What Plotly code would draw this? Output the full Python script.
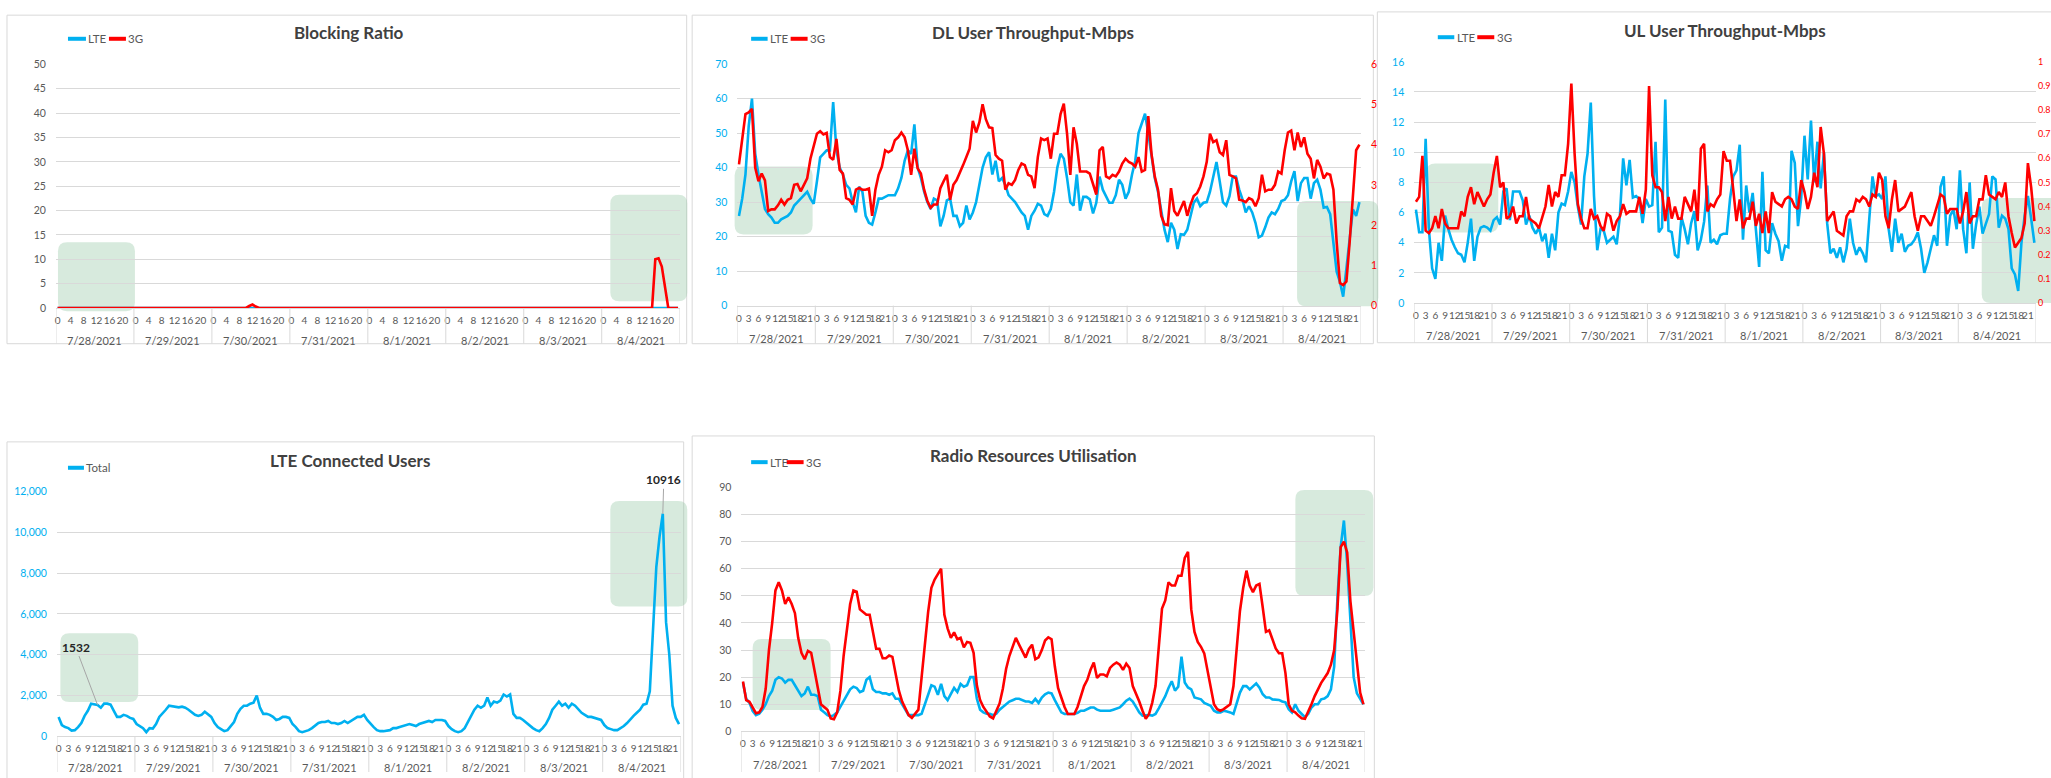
import plotly.graph_objects as go

# ---------------- DATA ----------------
dates = ["7/28/2021", "7/29/2021", "7/30/2021", "7/31/2021", "8/1/2021", "8/2/2021", "8/3/2021", "8/4/2021"]
hours = list(range(24))

blocking_lte = [
    0, 0, 0, 0, 0, 0, 0, 0, 0, 0, 0, 0, 0, 0, 0, 0, 0, 0, 0, 0, 0, 0, 0, 0,
    0, 0, 0, 0, 0, 0, 0, 0, 0, 0, 0, 0, 0, 0, 0, 0, 0, 0, 0, 0, 0, 0, 0, 0,
    0, 0, 0, 0, 0, 0, 0, 0, 0, 0, 0, 0, 0, 0, 0, 0, 0, 0, 0, 0, 0, 0, 0, 0,
    0, 0, 0, 0, 0, 0, 0, 0, 0, 0, 0, 0, 0, 0, 0, 0, 0, 0, 0, 0, 0, 0, 0, 0,
    0, 0, 0, 0, 0, 0, 0, 0, 0, 0, 0, 0, 0, 0, 0, 0, 0, 0, 0, 0, 0, 0, 0, 0,
    0, 0, 0, 0, 0, 0, 0, 0, 0, 0, 0, 0, 0, 0, 0, 0, 0, 0, 0, 0, 0, 0, 0, 0,
    0, 0, 0, 0, 0, 0, 0, 0, 0, 0, 0, 0, 0, 0, 0, 0, 0, 0, 0, 0, 0, 0, 0, 0,
    0, 0, 0, 0, 0, 0, 0, 0, 0, 0, 0, 0, 0, 0, 0, 0, 0, 0, 0, 0, 0, 0, 0, 0,
]
blocking_3g = [
    0, 0, 0, 0, 0, 0, 0, 0, 0, 0, 0, 0.1, 0, 0, 0, 0, 0, 0, 0, 0, 0, 0, 0, 0,
    0, 0, 0, 0, 0, 0, 0, 0, 0, 0, 0, 0, 0, 0, 0, 0, 0, 0, 0, 0, 0, 0, 0, 0,
    0, 0, 0, 0, 0, 0, 0, 0, 0, 0, 0, 0.4, 0.7, 0.3, 0, 0, 0, 0, 0, 0, 0, 0, 0, 0,
    0, 0, 0, 0, 0, 0, 0, 0, 0, 0, 0, 0, 0, 0, 0, 0, 0, 0, 0, 0, 0, 0, 0, 0,
    0, 0, 0, 0, 0, 0, 0, 0, 0, 0, 0, 0, 0, 0, 0, 0, 0, 0, 0, 0, 0, 0, 0, 0,
    0, 0, 0, 0, 0, 0, 0, 0, 0, 0, 0.1, 0, 0, 0, 0, 0, 0, 0, 0, 0, 0, 0, 0, 0,
    0, 0, 0, 0, 0, 0, 0, 0, 0, 0, 0, 0, 0, 0, 0, 0, 0, 0, 0, 0, 0, 0, 0, 0,
    0, 0, 0, 0, 0, 0, 0, 0, 0, 0, 0, 0, 0, 0, 0, 0, 10, 10.2, 8.5, 4, 0, 0, 0, 0,
]

dl_lte = [
    26, 31, 38, 52, 60, 44, 38, 33, 28, 26.5, 25.5, 24, 24, 25, 25.5, 26, 27, 29, 30, 31, 32, 33, 31, 29.5,
    36, 43, 44, 45, 45, 59, 45, 40, 38, 35, 34, 30, 27, 34.5, 33, 26, 24, 23.5, 27, 31, 31, 31.5, 32, 32,
    32, 34, 37, 42, 45, 44, 52.5, 40, 37, 33, 30, 28, 31, 30.5, 23, 26, 30.5, 31, 26, 26, 23, 24, 29, 25,
    27, 30, 35, 40, 43, 44.5, 38, 42, 36, 37, 35, 32, 31, 30, 28.5, 27, 26, 22, 26, 27.5, 29.5, 29, 26.5, 26,
    28, 33, 40, 44, 42.6, 37, 30, 29, 38, 27.5, 31.5, 31.5, 30.8, 26.7, 29.8, 37.4, 33.6, 31.7, 29.8, 29.8, 32, 36.5, 35, 31,
    33, 38, 42, 50, 53, 55.6, 50, 44, 37, 33, 28, 22, 18.4, 24, 22, 16.4, 20.7, 20.5, 22, 26, 29.8, 31, 28.8, 29.8,
    30, 33, 37, 41.6, 36, 30, 29, 31.7, 37.4, 37.4, 33.6, 30.8, 27, 28.8, 27, 24, 19.8, 20.3, 22.7, 25.5, 27, 26.5, 28, 30.3,
    30.7, 32, 36, 39, 30.3, 35.5, 37, 37, 31, 35.5, 36.5, 33.6, 28.4, 28.6, 26.5, 18.4, 9.8, 6.9, 2.6, 10.8, 19.3, 27.9, 26, 30,
]
dl_3g = [
    3.51, 4.11, 4.76, 4.80, 4.89, 3.43, 3.09, 3.28, 3.11, 2.35, 2.39, 2.39, 2.49, 2.63, 2.51, 2.63, 2.67, 3.00, 3.02, 2.84, 3.00, 3.16, 3.65, 3.94,
    4.27, 4.33, 4.25, 4.29, 3.69, 3.62, 4.14, 3.37, 3.28, 2.67, 2.63, 2.51, 2.88, 2.92, 2.88, 2.88, 2.91, 2.23, 2.88, 3.25, 3.45, 3.86, 3.81, 3.86,
    4.11, 4.18, 4.30, 4.18, 3.86, 3.25, 3.90, 3.41, 3.28, 2.88, 2.60, 2.43, 2.51, 2.51, 2.92, 3.09, 3.25, 2.63, 3.00, 3.12, 3.33, 3.49, 3.69, 3.90,
    4.59, 4.30, 4.55, 5.00, 4.63, 4.43, 4.41, 3.74, 3.65, 3.60, 2.88, 3.04, 3.00, 3.12, 3.37, 3.53, 3.49, 3.25, 3.21, 2.92, 3.69, 4.15, 4.11, 4.15,
    3.65, 4.27, 4.27, 4.76, 5.02, 4.27, 3.25, 4.43, 4.02, 3.33, 3.33, 3.33, 3.28, 3.04, 2.76, 3.86, 3.94, 3.21, 3.16, 3.25, 3.21, 3.33, 3.53, 3.65,
    3.57, 3.53, 3.45, 3.69, 3.33, 3.37, 4.71, 3.77, 3.21, 2.88, 2.23, 2.02, 2.00, 2.92, 2.35, 2.23, 2.43, 2.60, 2.23, 2.51, 2.72, 2.79, 2.96, 3.21,
    3.57, 4.27, 4.06, 4.11, 3.81, 3.74, 4.11, 3.25, 3.21, 3.16, 2.63, 2.61, 2.57, 2.67, 2.63, 2.47, 2.67, 3.25, 2.84, 2.88, 2.88, 3.00, 3.33, 3.28,
    3.86, 4.30, 4.35, 3.86, 4.30, 3.94, 4.18, 3.77, 3.65, 3.16, 3.62, 3.45, 3.16, 3.28, 3.25, 2.88, 1.58, 0.56, 0.51, 0.60, 1.58, 2.84, 3.86, 4.00,
]

ul_lte = [
    6.2, 4.7, 4.7, 10.9, 4.9, 2.3, 1.6, 4.0, 2.8, 5.8, 4.9, 4.2, 3.7, 3.3, 3.2, 2.7, 4.0, 5.6, 2.8, 4.4, 5.0, 5.1, 5.0, 4.8,
    5.5, 5.7, 5.2, 7.4, 7.6, 5.5, 7.4, 7.4, 7.4, 6.8, 5.2, 5.8, 5.0, 4.6, 5.0, 4.1, 4.6, 3.0, 4.6, 3.5, 6.0, 6.6, 6.5, 7.4,
    8.7, 8.0, 6.4, 5.2, 8.4, 9.9, 13.3, 7.1, 3.5, 4.9, 4.8, 4.0, 4.2, 4.4, 3.9, 5.8, 9.6, 7.8, 9.5, 7.0, 7.1, 6.9, 5.3, 6.9,
    6.4, 6.5, 10.7, 4.7, 5.0, 13.5, 4.8, 4.7, 3.2, 3.0, 5.7, 4.9, 3.9, 5.3, 6.1, 3.5, 4.2, 5.4, 7.8, 4.0, 4.2, 3.9, 4.5, 4.6,
    4.6, 6.9, 8.4, 8.8, 10.5, 4.2, 7.8, 6.0, 7.3, 4.9, 2.4, 8.7, 3.5, 3.3, 5.3, 4.6, 4.1, 2.8, 3.8, 3.7, 10.1, 9.3, 5.1, 7.0,
    11.1, 8.2, 12.1, 8.0, 10.7, 7.6, 10.0, 5.3, 3.3, 3.6, 3.0, 3.7, 2.7, 3.6, 5.6, 4.0, 3.2, 3.7, 3.3, 2.7, 5.5, 8.4, 7.1, 7.2,
    6.9, 8.4, 4.9, 3.4, 5.6, 4.0, 4.6, 3.4, 3.8, 3.9, 4.2, 4.7, 3.6, 2.0, 2.7, 3.6, 4.5, 3.8, 7.7, 8.4, 3.8, 5.8, 6.2, 4.9,
    8.8, 4.9, 3.3, 8.0, 3.6, 5.2, 6.4, 4.6, 5.2, 5.9, 8.4, 8.2, 5.0, 5.8, 5.6, 4.9, 2.3, 1.9, 0.8, 4.0, 5.8, 7.1, 5.6, 4.0,
]
ul_3g = [
    0.42, 0.44, 0.61, 0.30, 0.29, 0.31, 0.36, 0.31, 0.39, 0.33, 0.31, 0.31, 0.31, 0.31, 0.38, 0.36, 0.44, 0.48, 0.41, 0.46, 0.43, 0.40, 0.43, 0.45,
    0.54, 0.61, 0.48, 0.50, 0.35, 0.36, 0.40, 0.33, 0.36, 0.36, 0.44, 0.35, 0.34, 0.33, 0.31, 0.36, 0.40, 0.49, 0.40, 0.46, 0.44, 0.53, 0.53, 0.66,
    0.91, 0.62, 0.41, 0.35, 0.31, 0.31, 0.39, 0.35, 0.36, 0.32, 0.30, 0.37, 0.36, 0.30, 0.34, 0.36, 0.41, 0.37, 0.38, 0.38, 0.38, 0.44, 0.37, 0.47,
    0.90, 0.53, 0.48, 0.48, 0.46, 0.34, 0.44, 0.35, 0.40, 0.35, 0.35, 0.44, 0.41, 0.38, 0.47, 0.34, 0.64, 0.66, 0.38, 0.41, 0.40, 0.43, 0.45, 0.63,
    0.59, 0.59, 0.47, 0.34, 0.43, 0.31, 0.35, 0.35, 0.42, 0.32, 0.37, 0.29, 0.38, 0.29, 0.46, 0.42, 0.41, 0.40, 0.43, 0.44, 0.43, 0.40, 0.39, 0.51,
    0.46, 0.39, 0.44, 0.54, 0.48, 0.73, 0.62, 0.34, 0.36, 0.38, 0.30, 0.29, 0.28, 0.36, 0.38, 0.38, 0.43, 0.42, 0.44, 0.43, 0.40, 0.45, 0.44, 0.54,
    0.51, 0.36, 0.31, 0.43, 0.51, 0.38, 0.39, 0.40, 0.43, 0.46, 0.36, 0.30, 0.36, 0.36, 0.34, 0.32, 0.36, 0.41, 0.45, 0.44, 0.37, 0.39, 0.39, 0.39,
    0.33, 0.38, 0.46, 0.33, 0.36, 0.36, 0.43, 0.43, 0.53, 0.45, 0.44, 0.43, 0.46, 0.44, 0.50, 0.36, 0.29, 0.23, 0.25, 0.27, 0.33, 0.58, 0.48, 0.34,
]

connected_total = [
    950, 550, 450, 400, 280, 300, 450, 650, 1000, 1250, 1600, 1550, 1532, 1400, 1600, 1600, 1550, 1250, 950, 950, 1050, 1000, 900, 850,
    600, 500, 400, 200, 400, 380, 600, 950, 1100, 1300, 1500, 1480, 1450, 1420, 1450, 1400, 1300, 1150, 1050, 1000, 1050, 1200, 1050, 950,
    650, 450, 350, 250, 300, 500, 700, 1100, 1350, 1500, 1500, 1600, 1650, 2000, 1400, 1100, 1100, 1050, 950, 800, 850, 950, 950, 900,
    600, 450, 250, 200, 250, 300, 400, 550, 650, 700, 700, 750, 650, 650, 600, 650, 750, 650, 750, 850, 950, 950, 1050, 800,
    600, 450, 300, 250, 250, 280, 300, 400, 400, 450, 500, 550, 600, 550, 500, 600, 650, 700, 750, 700, 800, 800, 800, 750,
    500, 350, 250, 200, 250, 400, 700, 1000, 1300, 1500, 1400, 1500, 1900, 1500, 1700, 1650, 1750, 2050, 1950, 2050, 1100, 900, 900, 800,
    650, 500, 400, 300, 250, 400, 600, 900, 1300, 1500, 1700, 1500, 1600, 1400, 1600, 1500, 1300, 1150, 1050, 950, 950, 900, 850, 800,
    550, 400, 350, 300, 300, 400, 500, 650, 850, 1000, 1150, 1300, 1550, 1600, 2200, 5500, 8300, 9800, 10916, 5600, 4000, 1500, 900, 600,
]

rru_lte = [
    18, 12, 10.5, 7.5, 6, 6.5, 8, 10, 13, 15, 19, 20, 19.5, 18, 19, 19, 17, 15, 13, 14, 16.5, 13.5, 13.5, 13,
    8, 7, 6, 5.5, 6, 7, 9, 11, 13.5, 15.5, 16.5, 16, 14.5, 15, 19, 20, 15.5, 14.5, 14.5, 14, 14, 13.5, 14, 12,
    12, 10, 7.5, 6, 6, 6, 6, 6.5, 10, 14, 17, 16.5, 13.5, 17.5, 13, 11.5, 13.5, 16, 14.5, 17.5, 16.5, 17, 20, 20,
    12, 8, 7, 6.5, 6.5, 6, 6.5, 8, 9, 10, 11, 11.5, 12, 12, 11.5, 11, 11, 10.5, 12, 10.5, 12.5, 13.7, 14.3, 14,
    11.5, 9, 7, 6.4, 6.4, 6.4, 6.4, 6.8, 7.6, 7.6, 8.2, 8.8, 8.8, 8, 7.6, 7.6, 7.6, 7.6, 8, 8.5, 8.8, 10, 11.3, 12.1,
    11, 9, 7, 5.8, 6, 6, 5.8, 6.4, 8.5, 10.5, 13, 16, 18.5, 15, 16.5, 27.6, 18, 16.2, 15.5, 12.5, 12, 11.8, 10.5, 10,
    9.4, 7.6, 7, 7, 7.6, 7.3, 7, 6.4, 10, 14.3, 16.7, 16.7, 15.5, 16.7, 17.7, 16.1, 13.7, 12.5, 12.5, 11.8, 11.8, 11.6, 11, 10.7,
    8.2, 7, 10, 7.6, 6.4, 5.2, 6.4, 8.8, 10, 10, 11.8, 12.1, 13, 15.5, 23.9, 49, 68, 77.8, 62, 40, 20, 14, 12, 10,
]
rru_3g = [
    18.4, 11.5, 10.9, 8.5, 6.7, 7, 9, 15.7, 30, 40, 52, 55, 52, 47, 49.5, 47, 43.6, 34.5, 29, 26.6, 29.7, 29, 23, 15.7,
    10, 9, 8, 4.8, 4.5, 7, 15, 28, 38, 47, 52, 51.5, 45, 44, 43, 43, 37, 30.5, 30.5, 27, 27, 28, 27.5, 21,
    15, 11, 8.5, 6, 5, 6.5, 8, 20, 32, 44, 53, 56, 58, 60, 43, 38, 34.5, 36.5, 34, 34.5, 31, 33, 32.7, 29,
    17, 11.5, 9, 7.3, 5.5, 4.8, 7.3, 10.3, 15.7, 23, 27.8, 31.5, 34.5, 32, 29.7, 27.2, 30.3, 32, 26.6, 27.3, 30, 33.5, 34.7, 34,
    24, 16, 12.5, 9, 6.4, 6.4, 6.4, 9, 13, 16.7, 19, 22.7, 25.4, 19.7, 21, 21, 20.3, 23.4, 24.6, 25.4, 24.6, 22.7, 25, 23.4,
    16.7, 14, 11, 7.6, 4.6, 6.4, 10.6, 16.7, 31.2, 45.3, 48.3, 55, 53.8, 53.8, 57.4, 57.4, 64, 66.2, 45, 36.7, 33, 31.2, 28.8, 22.7,
    15.5, 10, 8.2, 7.6, 8.2, 9.2, 10, 16.7, 32.4, 44.5, 53, 59.3, 53.8, 51.4, 53.8, 54.4, 45.8, 36.7, 37.3, 34.3, 30.6, 28.8, 28.8, 21.5,
    10, 7.6, 7, 5.8, 4.8, 4.6, 7, 10, 13, 15.5, 17.9, 19.7, 21.5, 24.6, 30, 45, 68, 70, 66, 48, 37, 25, 14.3, 10,
]

titles = ["Blocking Ratio", "DL User Throughput-Mbps", "UL User Throughput-Mbps",
          "LTE Connected Users", "Radio Resources Utilisation"]

# ---------------- STYLE / LAYOUT ----------------
W, H = 2051, 778
FONT = "Lato, Liberation Sans, sans-serif"
BLUE = "#00B0F0"
RED = "#FF0000"
GRAY = "#595959"
GRID = "#D9D9D9"
N = len(dates) * len(hours)
xs = list(range(N))


def fx(p):
    return p / W


def fy(p):
    return 1 - p / H


# pixel geometry of each panel: plot area, labels, border
panels = [
    dict(x0=55, x1=679, yt=59.3, yb=306.7, step=4, title_xy=(348, 27), date_y=340,
         border=(6, 9.3, 686, 343)),
    dict(x0=736.7, x1=1360.7, yt=59, yb=304.3, step=3, title_xy=(1033, 27), date_y=338,
         border=(691.5, 9.3, 1373, 343)),
    dict(x0=1414, x1=2036, yt=56.7, yb=301.7, step=3, title_xy=(1725, 25), date_y=335,
         border=(1377, 6, 2070, 342)),
    dict(x0=56, x1=680, yt=493.3, yb=741.7, step=3, title_xy=(349, 462), date_y=773,
         border=(6, 442.7, 683, 800)),
    dict(x0=740.7, x1=1364.7, yt=489, yb=736.7, step=3, title_xy=(1033, 457), date_y=770,
         border=(691.5, 436.7, 1374, 800)),
]

fig = go.Figure()


def add_line(y, color, xa, ya):
    fig.add_trace(go.Scatter(x=xs, y=y, mode="lines", line=dict(color=color, width=2.6),
                             xaxis=xa, yaxis=ya, showlegend=False, hoverinfo="skip"))


add_line(blocking_lte, BLUE, "x", "y")
add_line(blocking_3g, RED, "x", "y")
add_line(dl_lte, BLUE, "x2", "y2")
add_line(dl_3g, RED, "x2", "y6")
add_line(ul_lte, BLUE, "x3", "y3")
add_line(ul_3g, RED, "x3", "y7")
add_line(connected_total, BLUE, "x4", "y4")
add_line(rru_lte, BLUE, "x5", "y5")
add_line(rru_3g, RED, "x5", "y5")

layout = dict(width=W, height=H, margin=dict(l=0, r=0, t=0, b=0),
              paper_bgcolor="white", plot_bgcolor="rgba(0,0,0,0)",
              font=dict(family=FONT, color=GRAY), showlegend=False)

yspecs = [
    dict(range=[0, 50], dtick=5, color=GRAY, fmt=""),
    dict(range=[0, 70], dtick=10, color=BLUE, fmt=""),
    dict(range=[0, 16], dtick=2, color=BLUE, fmt=""),
    dict(range=[0, 12000], dtick=2000, color=BLUE, fmt=","),
    dict(range=[0, 90], dtick=10, color=GRAY, fmt=""),
]

shapes = []
annotations = []

for i, p in enumerate(panels):
    k = "" if i == 0 else str(i + 1)
    tv = [j for j in xs if hours[j % 24] % p["step"] == 0]
    tt = [str(hours[j % 24]) for j in tv]
    layout["xaxis" + k] = dict(domain=[fx(p["x0"]), fx(p["x1"])], range=[-0.5, N - 0.5],
                               anchor="y" + k, tickmode="array", tickvals=tv, ticktext=tt,
                               tickangle=0, tickfont=dict(size=10, color=GRAY, family=FONT),
                               showgrid=False, zeroline=False, showline=True, linecolor=GRID,
                               linewidth=1, ticks="", ticklabelstandoff=3, fixedrange=True)
    ys = yspecs[i]
    layout["yaxis" + k] = dict(domain=[fy(p["yb"]), fy(p["yt"])], range=ys["range"], dtick=ys["dtick"],
                               anchor="x" + k, showgrid=True, gridcolor=GRID, gridwidth=1,
                               zeroline=False, showline=False, ticks="", tickformat=ys["fmt"],
                               tickfont=dict(size=10.5, color=ys["color"], family=FONT),
                               ticklabelstandoff=9, fixedrange=True)
    # border of the chart object
    bx0, by0, bx1, by1 = p["border"]
    shapes.append(dict(type="rect", xref="paper", yref="paper", x0=fx(bx0), x1=fx(bx1),
                       y0=fy(by1), y1=fy(by0), line=dict(color=GRID, width=1), layer="below"))
    # day dividers on the category axis
    for d in range(len(dates) + 1):
        shapes.append(dict(type="line", xref="x" + k, yref="paper", x0=d * 24 - 0.5, x1=d * 24 - 0.5,
                           y0=fy(p["yb"]), y1=fy(by1 if by1 < H else H), line=dict(color=GRID, width=1)))
    for d, lab in enumerate(dates):
        annotations.append(dict(xref="x" + k, yref="paper", x=d * 24 + 11.5, y=fy(p["date_y"]),
                                text=lab, showarrow=False, yanchor="middle",
                                font=dict(size=11, color=GRAY, family=FONT)))
    tx, ty = p["title_xy"]
    annotations.append(dict(xref="paper", yref="paper", x=fx(tx), y=fy(ty), text="<b>" + titles[i] + "</b>",
                            showarrow=False, xanchor="center", yanchor="middle",
                            font=dict(size=17, color="#404040", family=FONT)))

# secondary axes
layout["yaxis6"] = dict(overlaying="y2", side="right", anchor="x2", range=[0, 6], dtick=1,
                        showgrid=False, zeroline=False, ticks="", ticklabelstandoff=9,
                        tickfont=dict(size=10.5, color=RED, family=FONT), fixedrange=True)
layout["yaxis7"] = dict(overlaying="y3", side="right", anchor="x3", range=[0, 1], dtick=0.1,
                        showgrid=False, zeroline=False, ticks="", ticklabelstandoff=1,
                        tickfont=dict(size=9, color=RED, family=FONT), fixedrange=True)

# legends (drawn like the spreadsheet's compact legends)
legend_items = [
    (33.3, [(67, 85, BLUE, "LTE"), (108, 125, RED, "3G")]),
    (33.3, [(750.5, 767, BLUE, "LTE"), (790, 807, RED, "3G")]),
    (31.7, [(1437.5, 1454, BLUE, "LTE"), (1477, 1494, RED, "3G")]),
    (469, [(67, 83, BLUE, "Total")]),
    (463.3, [(750.5, 767, BLUE, "LTE"), (786, 803, RED, "3G")]),
]
for ly, items in legend_items:
    for (a, b, c, t) in items:
        shapes.append(dict(type="line", xref="paper", yref="paper", x0=fx(a), x1=fx(b),
                           y0=fy(ly), y1=fy(ly), line=dict(color=c, width=4)))
        annotations.append(dict(xref="paper", yref="paper", x=fx(b + 0.5), y=fy(ly), text=t,
                                showarrow=False, xanchor="left", yanchor="middle",
                                font=dict(size=11.5, color=GRAY, family=FONT)))


# highlight boxes
def rrect(x0, y0, x1, y1, r=9):
    X = lambda v: fx(v)
    Y = lambda v: fy(v)
    return (f"M {X(x0 + r)} {Y(y0)} L {X(x1 - r)} {Y(y0)} Q {X(x1)} {Y(y0)} {X(x1)} {Y(y0 + r)} "
            f"L {X(x1)} {Y(y1 - r)} Q {X(x1)} {Y(y1)} {X(x1 - r)} {Y(y1)} "
            f"L {X(x0 + r)} {Y(y1)} Q {X(x0)} {Y(y1)} {X(x0)} {Y(y1 - r)} "
            f"L {X(x0)} {Y(y0 + r)} Q {X(x0)} {Y(y0)} {X(x0 + r)} {Y(y0)} Z")


boxes = [
    (57, 240, 134, 310), (609.6, 191.7, 686.6, 300),
    (734, 163, 812, 232), (1296.7, 198, 1378, 305),
    (1426, 160, 1498, 230), (1981.7, 195, 2070, 301.7),
    (59.4, 637, 137.3, 707), (609.6, 502.7, 686.6, 610),
    (752, 643, 830, 715), (1295, 491.7, 1373, 599.3),
]
for b in boxes:
    shapes.append(dict(type="path", path=rrect(*b), xref="paper", yref="paper",
                       fillcolor="rgba(150,200,165,0.38)", line=dict(width=0), layer="between"))

# data labels on the connected-users chart
i_min = 12
i_max = connected_total.index(max(connected_total))
annotations.append(dict(xref="x4", yref="y4", x=i_min, y=connected_total[i_min], text="<b>1532</b>",
                        showarrow=True, arrowhead=0, arrowwidth=1, arrowcolor="#A6A6A6",
                        ax=-22, ay=-58, font=dict(size=12, color="#262626", family=FONT)))
annotations.append(dict(xref="x4", yref="y4", x=i_max, y=connected_total[i_max], text="<b>10916</b>",
                        showarrow=True, arrowhead=0, arrowwidth=1, arrowcolor="#A6A6A6",
                        ax=1, ay=-34, font=dict(size=12, color="#262626", family=FONT)))

layout["shapes"] = shapes
layout["annotations"] = annotations
fig.update_layout(**layout)
fig.write_html("out.html", config={"displayModeBar": False, "staticPlot": True},
               post_script="document.body.style.margin='0px';")
